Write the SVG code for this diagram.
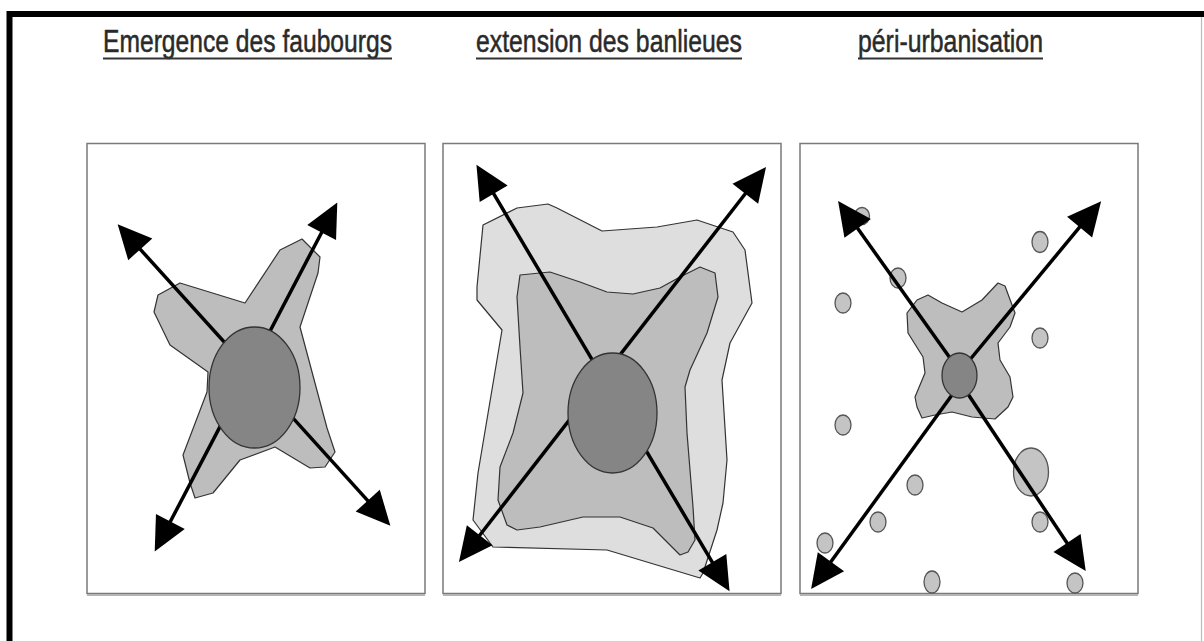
<svg xmlns="http://www.w3.org/2000/svg" width="1204" height="641" viewBox="0 0 1204 641">
<style>
.title{font-family:"Liberation Sans",Arial,sans-serif;font-size:31px;fill:#2a2a2a;stroke:#2a2a2a;stroke-width:0.5}
.uline{stroke:#333;stroke-width:2}
.panel{fill:#fff;stroke:#7a7a7a;stroke-width:1.5}
.shadow{stroke:#b5b5b5;stroke-width:2}
.shape{stroke:#333;stroke-width:1.2;stroke-linejoin:round}
.light{fill:#dedede}
.mid{fill:#bdbdbd}
.core{fill:#858585;stroke:#333;stroke-width:1.3}
.dot{fill:#c4c4c4;stroke:#555;stroke-width:1.3}
.arrow{stroke:#000;stroke-width:3.5;fill:none}
.two{marker-start:url(#ah);marker-end:url(#ah)}
.one{marker-end:url(#ah)}
</style>
<defs>
<marker id="ah" markerUnits="userSpaceOnUse" markerWidth="40" markerHeight="40" viewBox="-10 -15 32 30" refX="0" refY="0" orient="auto-start-reverse">
<path d="M-7,-13 L20,0 L-7,13 z" fill="#000"/>
</marker>
</defs>
<rect width="1204" height="641" fill="#fff"/>
<g id="frame">
<path d="M9.5,641 L9.5,14 L1204,14" fill="none" stroke="#000" stroke-width="6"/>
<line x1="1201.5" y1="17" x2="1201.5" y2="641" stroke="#bbb" stroke-width="1.2"/>
</g>
<g id="title1">
<text class="title" x="103" y="52" textLength="289" lengthAdjust="spacingAndGlyphs">Emergence des faubourgs</text>
<line class="uline" x1="103" y1="58.5" x2="392" y2="58.5"/>
</g>
<g id="title2">
<text class="title" x="476" y="52" textLength="266" lengthAdjust="spacingAndGlyphs">extension des banlieues</text>
<line class="uline" x1="476" y1="58.5" x2="742" y2="58.5"/>
</g>
<g id="title3">
<text class="title" x="858" y="52" textLength="185" lengthAdjust="spacingAndGlyphs">péri-urbanisation</text>
<line class="uline" x1="858" y1="58.5" x2="1043" y2="58.5"/>
</g>
<g id="panel1">
<rect class="panel" x="87" y="143.5" width="338" height="450"/>
<line class="shadow" x1="87" y1="595" x2="425" y2="595"/>
<polygon class="shape mid" points="180,283 245,303 280,250 302,239 320,257 318,273 300,327 327,428 335,452 325,467 310,468 275,447 240,460 213,493 195,498 190,483 183,455 207,392 208,372 170,345 154,312 158,295"/>
</g>
<g id="panel2">
<rect class="panel" x="443" y="143.5" width="338" height="450"/>
<line class="shadow" x1="443" y1="595" x2="781" y2="595"/>
<polygon class="shape light" points="483,225 517,208 548,204 557,208 602,231 657,227 697,220 733,232 745,250 752,303 730,343 722,380 727,460 723,503 717,530 703,573 700,578 607,550 493,547 473,520 478,473 502,330 477,300 477,287"/>
<polygon class="shape mid" points="520,275 550,272 580,282 607,292 633,294 660,288 680,277 700,267 715,273 718,297 707,333 690,370 685,387 687,433 693,507 695,540 688,552 680,555 653,528 620,517 583,517 540,527 517,530 507,525 498,500 500,467 513,433 523,393 520,347 517,297"/>
</g>
<g id="panel3">
<rect class="panel" x="800" y="143.5" width="338" height="450"/>
<line class="shadow" x1="800" y1="595" x2="1138" y2="595"/>
<g id="satellites">
<ellipse class="dot" cx="862" cy="216" rx="7.5" ry="8.5"/>
<ellipse class="dot" cx="1040" cy="242" rx="8" ry="10.5"/>
<ellipse class="dot" cx="898" cy="278" rx="8" ry="10"/>
<ellipse class="dot" cx="843" cy="303" rx="8" ry="10"/>
<ellipse class="dot" cx="1040" cy="338" rx="8" ry="10"/>
<ellipse class="dot" cx="843" cy="425" rx="8" ry="10"/>
<ellipse class="dot" cx="1031" cy="472" rx="17.5" ry="24"/>
<ellipse class="dot" cx="915" cy="485" rx="8" ry="10"/>
<ellipse class="dot" cx="878" cy="522" rx="8" ry="10"/>
<ellipse class="dot" cx="1040" cy="522" rx="8" ry="10"/>
<ellipse class="dot" cx="825" cy="543" rx="8" ry="10"/>
<ellipse class="dot" cx="932" cy="582" rx="8" ry="11"/>
<ellipse class="dot" cx="1075" cy="583" rx="8" ry="10"/>
</g>
<polygon class="shape mid" points="917,300 928,295 942,303 962,312 982,300 998,283 1005,286 1015,313 1010,327 998,343 1000,360 1010,377 1013,397 1008,407 995,419 972,417 952,412 935,415 922,418 917,407 915,397 925,373 923,357 908,333 907,313"/>
</g>
<g id="connectors">
<line class="arrow two" x1="134.4" y1="242.8" x2="373.6" y2="507.2"/>
<line class="arrow two" x1="325.7" y1="224.7" x2="166.3" y2="529.3"/>
<line class="arrow two" x1="489.2" y1="186.2" x2="716.8" y2="569.8"/>
<line class="arrow two" x1="750.7" y1="186.8" x2="474.3" y2="542.2"/>
<line class="arrow one" x1="955" y1="365" x2="852.6" y2="221.3"/>
<line class="arrow one" x1="962" y1="385" x2="1071.9" y2="550.3"/>
<line class="arrow one" x1="968" y1="362" x2="1085.2" y2="220.4"/>
<line class="arrow one" x1="952" y1="395" x2="825.8" y2="568.8"/>
</g>
<g id="centre1"><ellipse class="core" cx="254.5" cy="387.5" rx="45.5" ry="60.5"/></g>
<g id="centre2"><ellipse class="core" cx="612.5" cy="413" rx="44.5" ry="60"/></g>
<g id="centre3"><ellipse class="core" cx="959.5" cy="375.5" rx="17.5" ry="22.5"/></g>
</svg>
